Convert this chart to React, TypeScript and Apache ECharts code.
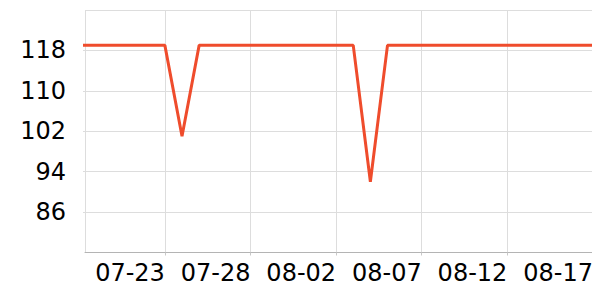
import React, { useEffect, useRef } from "react";
import * as echarts from "echarts";

const dates = [
  "07-18", "07-19", "07-20", "07-21", "07-22", "07-23", "07-24", "07-25", "07-26", "07-27",
  "07-28", "07-29", "07-30", "07-31", "08-01", "08-02", "08-03", "08-04", "08-05", "08-06",
  "08-07", "08-08", "08-09", "08-10", "08-11", "08-12", "08-13", "08-14", "08-15", "08-16",
  "08-17",
];
const values = [
  119, 119, 119, 119, 119, 119, 101, 119, 119, 119,
  119, 119, 119, 119, 119, 119, 119, 92, 119, 119,
  119, 119, 119, 119, 119, 119, 119, 119, 119, 119,
  119,
];
const yMin = 78;
const yMax = 126;
const yStep = 8;

export default function App() {
  const ref = useRef<HTMLDivElement>(null);
  useEffect(() => {
    if (!ref.current) return;
    const chart = echarts.init(ref.current, null, { renderer: "svg" });
    const font = "DejaVu Sans";
    const g = "#dddddd";
    chart.setOption({
      animation: false,
      grid: { left: 85, right: -2, top: 10, bottom: 47.5, containLabel: false },
      xAxis: {
        type: "value",
        min: 0.335,
        max: 30.41,
        splitNumber: 6,
        axisLine: { show: true, lineStyle: { color: "#b4b4b4", width: 1 } },
        axisTick: { show: true, length: 3, lineStyle: { color: "#c8c8c8" } },
        splitLine: {
          show: true,
          lineStyle: { color: [g, g, g, g, g, g, "rgba(0,0,0,0)", g], width: 1 },
        },
        axisLabel: {
          showMinLabel: false,
          showMaxLabel: false,
          align: "right",
          margin: 8,
          color: "#000",
          fontFamily: font,
          fontSize: 24,
          formatter: (v: number) => {
            const i = Math.round(v);
            return Math.abs(v - i) < 1e-6 && dates[i] ? dates[i] : "";
          },
        },
      },
      yAxis: {
        type: "value",
        min: yMin,
        max: yMax,
        interval: yStep,
        axisLine: { show: false },
        axisTick: { show: true, length: 2, lineStyle: { color: g } },
        splitLine: { show: true, lineStyle: { color: g, width: 1 } },
        axisLabel: {
          showMinLabel: false,
          showMaxLabel: false,
          margin: 19,
          color: "#000",
          fontFamily: font,
          fontSize: 24,
        },
      },
      series: [
        {
          type: "line",
          data: dates.map((d, i) => [i, values[i]]),
          showSymbol: false,
          symbol: "none",
          smooth: false,
          clip: true,
          lineStyle: { color: "#ef4c2c", width: 3 },
          itemStyle: { color: "#ef4c2c" },
        },
      ],
    });
    return () => chart.dispose();
  }, []);
  return <div ref={ref} style={{ width: 600, height: 300, marginLeft: -8, marginTop: -8 }} />;
}
